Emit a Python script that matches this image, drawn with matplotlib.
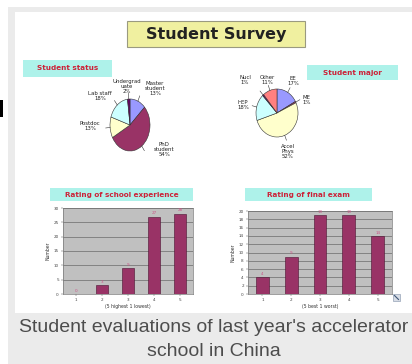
import numpy as np
import matplotlib
matplotlib.use("Agg")
import matplotlib.pyplot as plt
from matplotlib.patches import Rectangle

# data
status_labels = ["Master\nstudent", "PhD\nstudent", "Postdoc", "Lab staff", "Undergrad\nuate"]
status_pct = [13, 54, 13, 18, 2]
major_labels = ["EE", "ME", "Accel\nPhys", "HEP", "Nucl", "Other"]
major_pct = [17, 1, 52, 18, 1, 11]
ratings = [1, 2, 3, 4, 5]
school_counts = [0, 3, 9, 27, 28]
exam_counts = [4, 9, 19, 19, 14]

# excel 97 chart palette
pal = ["#9999FF", "#993366", "#FFFFCC", "#CCFFFF", "#660066", "#FF8080"]
bar_col = "#993366"
tag_bg = "#aef2ea"
tag_fg = "#cc2238"

W, H = 412, 364
fig = plt.figure(figsize=(W / 100, H / 100), dpi=100)
fig.patch.set_facecolor("white")


def box(x0, y0, x1, y1):
    return [x0 / W, 1 - y1 / H, (x1 - x0) / W, (y1 - y0) / H]


bg = fig.add_axes([0, 0, 1, 1])
bg.set_xlim(0, W)
bg.set_ylim(H, 0)
bg.axis("off")

# frame, slide, caption strip
bg.add_patch(Rectangle((8, 7), W - 8, H - 7, fc="#ebebeb", ec="none"))
bg.add_patch(Rectangle((15, 12), W - 15, 301, fc="white", ec="none"))
bg.add_patch(Rectangle((0, 100), 3, 17, fc="black", ec="none"))

# title
bg.add_patch(Rectangle((127, 21), 178, 26, fc="#f0f0a0", ec="#9a9a80", lw=0.8))
bg.text(216, 34.5, "Student Survey", ha="center", va="center",
        fontsize=11.5, fontweight="bold", color="#222222")


def tag(x0, y0, x1, y1, txt, fs=5.2):
    bg.add_patch(Rectangle((x0, y0), x1 - x0, y1 - y0, fc=tag_bg, ec="none"))
    bg.text((x0 + x1) / 2, (y0 + y1) / 2, txt, ha="center", va="center",
            fontsize=fs, fontweight="bold", color=tag_fg)


tag(23, 60, 112, 77, "Student status")
tag(307, 65, 398, 80, "Student major")
tag(50, 188, 193, 201, "Rating of school experience")
tag(245, 188, 372, 201, "Rating of final exam")


def pie(rect, vals, labels, cols, label_xy):
    ax = fig.add_axes(rect)
    wedges, _ = ax.pie(vals, colors=cols, startangle=90, counterclock=False,
                       wedgeprops=dict(edgecolor="#333333", linewidth=0.4))
    ax.set_aspect("auto")
    ax.set_xlim(-1, 1)
    ax.set_ylim(-1, 1)
    for w, lab, v, (lx, ly) in zip(wedges, labels, vals, label_xy):
        a = np.deg2rad((w.theta1 + w.theta2) / 2)
        ax.plot([np.cos(a), 1.22 * np.cos(a)], [np.sin(a), 1.22 * np.sin(a)],
                color="#333333", lw=0.4, clip_on=False)
        ax.text(lx, ly, f"{lab}\n{v}%", ha="center", va="center", fontsize=3.9,
                color="#222222", linespacing=1.0, clip_on=False)


pie(box(110, 99, 150, 151), status_pct, status_labels, pal[:5],
    [(1.25, 1.42), (1.7, -0.96), (-2.0, -0.04), (-1.5, 1.12), (-0.15, 1.5)])
pie(box(256, 89, 298, 137), major_pct, major_labels, pal,
    [(0.76, 1.32), (1.4, 0.54), (0.52, -1.6), (-1.62, 0.33), (-1.52, 1.36), (-0.48, 1.36)])


def bars(rect, counts, ymax, step, xlab):
    ax = fig.add_axes(rect)
    ax.set_facecolor("#c0c0c0")
    ax.bar(ratings, counts, width=0.45, color=bar_col, edgecolor="#4a1030",
           linewidth=0.4, zorder=3)
    for x, c in zip(ratings, counts):
        ax.text(x, c + ymax * 0.015, str(c), ha="center", va="bottom",
                fontsize=3, color="#cc5588", zorder=4)
    ax.set_xlim(0.5, 5.5)
    ax.set_ylim(0, ymax)
    ax.set_yticks(np.arange(0, ymax + 1, step))
    ax.set_xticks(ratings)
    ax.grid(axis="y", color="#555555", lw=0.4, zorder=1)
    ax.tick_params(labelsize=3, length=1.5, width=0.3, pad=1.5, colors="#444444")
    for s in ax.spines.values():
        s.set_color("#777777")
        s.set_linewidth(0.5)
    ax.set_xlabel(xlab, fontsize=3.3, labelpad=1, color="#333333")
    ax.set_ylabel("Number", fontsize=3.3, labelpad=2, color="#333333")
    return ax


bars(box(63, 208, 193, 294), school_counts, 30, 5, "(5 highest 1 lowest)")
bars(box(248, 211, 392, 294), exam_counts, 20, 2, "(5 best 1 worst)")

# small expand icon in the corner of the slide
bg.add_patch(Rectangle((393, 294), 7, 7, fc="#d8dde6", ec="#8090a8", lw=0.4))
bg.plot([394.5, 398.5], [295.5, 299.5], color="#405878", lw=0.8)

# caption
bg.text(214, 328, "Student evaluations of last year's accelerator",
        ha="center", va="center", fontsize=14, family="Liberation Sans",
        color="#4d4d4d")
bg.text(214, 352, "school in China", ha="center", va="center", fontsize=14,
        family="Liberation Sans", color="#4d4d4d")

fig.savefig("out.png", dpi=100)
